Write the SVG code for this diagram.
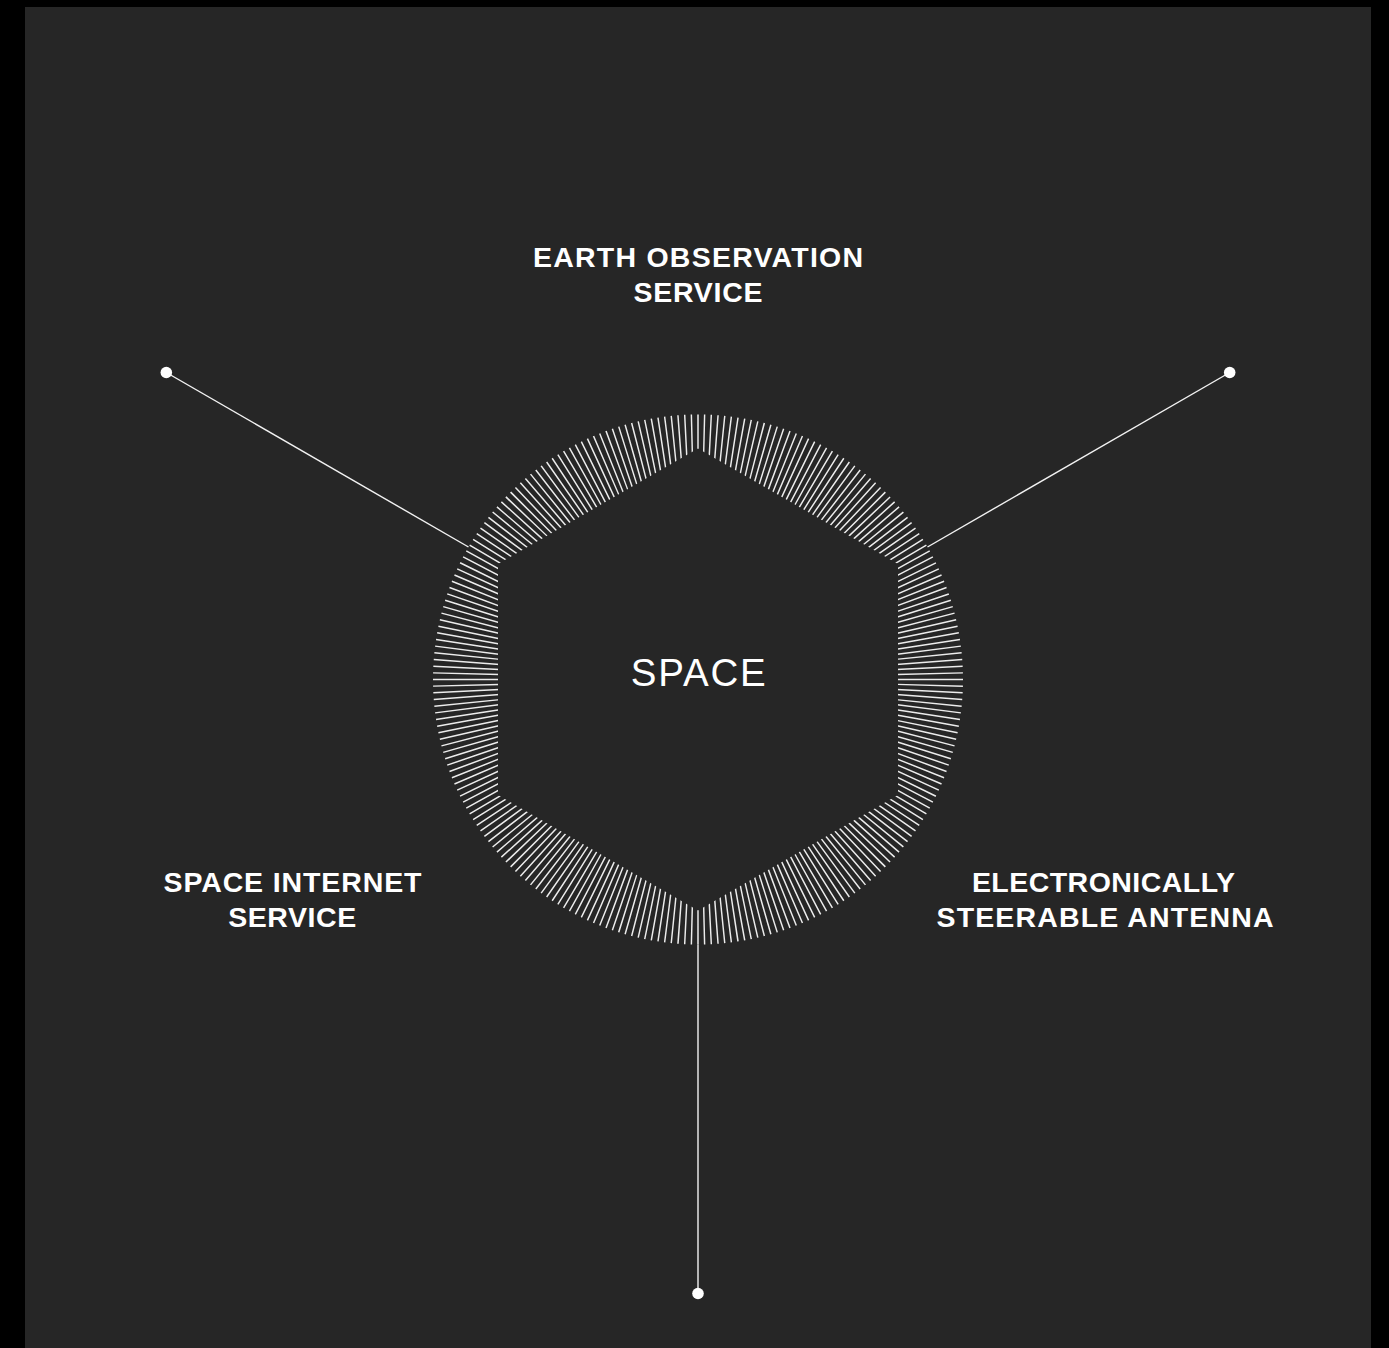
<svg xmlns="http://www.w3.org/2000/svg" width="1389" height="1348" viewBox="0 0 1389 1348">
  <style>
    .label { font-family: "Liberation Sans", Arial, sans-serif; font-weight: 700; font-size: 28.5px; fill: #ffffff; text-anchor: middle; }
    .hub { font-family: "Liberation Sans", Arial, sans-serif; font-weight: 400; font-size: 38.5px; fill: #ffffff; text-anchor: middle; }
    .conn { stroke: #f2f2f2; stroke-width: 1.4; fill: none; }
    .dot { fill: #ffffff; }
  </style>
  <rect x="0" y="0" width="1389" height="1348" fill="#000000"/>
  <rect x="25" y="7" width="1346" height="1341" fill="#262626"/>

  <g id="connectors">
    <line class="conn" x1="468.5" y1="547" x2="166.3" y2="372.5"/>
    <line class="conn" x1="927.5" y1="547" x2="1229.7" y2="372.5"/>
    <line class="conn" x1="698" y1="944.5" x2="698" y2="1293.5"/>
    <circle class="dot" cx="166.3" cy="372.5" r="5.8"/>
    <circle class="dot" cx="1229.7" cy="372.5" r="5.8"/>
    <circle class="dot" cx="698" cy="1293.5" r="5.8"/>
  </g>

  <g id="node-space">
    <circle cx="698" cy="679.5" r="232" fill="none" stroke="#ececec" stroke-width="66" pathLength="248" stroke-dasharray="0.25 0.75" stroke-dashoffset="0.125"/>
    <polygon points="698,448.56 898,564.03 898,794.97 698,910.44 498,794.97 498,564.03" fill="#262626"/>
    <text class="hub" x="698.3" y="686" textLength="135" lengthAdjust="spacing">SPACE</text>
  </g>

  <g id="node-earth-observation">
    <text class="label" x="698" y="267.3" textLength="330" lengthAdjust="spacing">EARTH OBSERVATION</text>
    <text class="label" x="698" y="301.8" textLength="129" lengthAdjust="spacing">SERVICE</text>
  </g>

  <g id="node-space-internet">
    <text class="label" x="292.5" y="891.8" textLength="258" lengthAdjust="spacing">SPACE INTERNET</text>
    <text class="label" x="292.2" y="926.6" textLength="128" lengthAdjust="spacing">SERVICE</text>
  </g>

  <g id="node-antenna">
    <text class="label" x="1103.4" y="891.8" textLength="263" lengthAdjust="spacing">ELECTRONICALLY</text>
    <text class="label" x="1105" y="926.6" textLength="337" lengthAdjust="spacing">STEERABLE ANTENNA</text>
  </g>
</svg>
